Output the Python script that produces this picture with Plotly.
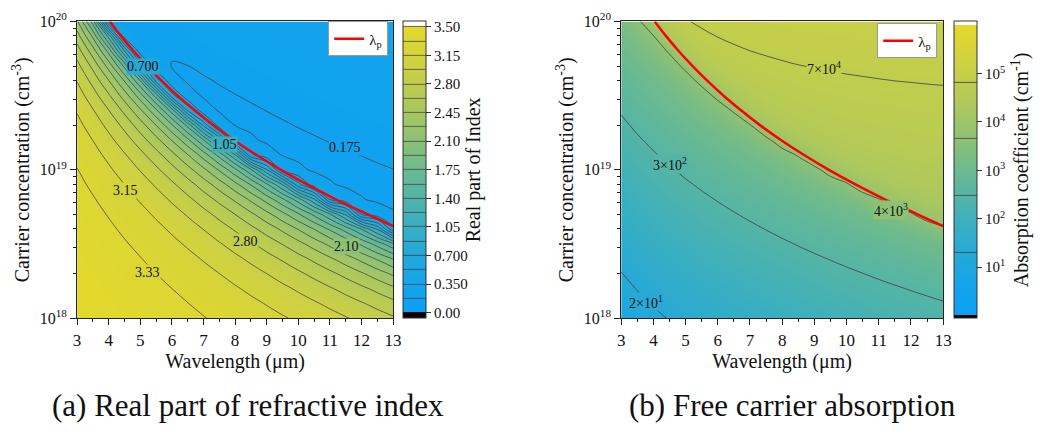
import plotly.graph_objects as go

# ---------------- data ----------------
wavelength = [3.0, 3.5, 4.0, 4.5, 5.0, 5.5, 6.0, 6.5, 7.0, 7.5, 8.0, 8.5, 9.0,
              9.5, 10.0, 10.5, 11.0, 11.5, 12.0, 12.5, 13.0]          # µm
log_conc = [18.0, 18.1, 18.2, 18.3, 18.4, 18.5, 18.6, 18.7, 18.8, 18.9, 19.0,
            19.1, 19.2, 19.3, 19.4, 19.5, 19.6, 19.7, 19.8, 19.9, 20.0]  # log10(cm^-3)

# (a) real part of the refractive index, one row per concentration
n_real = [
    [3.484,3.472,3.458,3.442,3.423,3.403,3.381,3.357,3.331,3.302,3.272,3.239,3.203,3.165,3.125,3.082,3.036,2.987,2.935,2.880,2.822],
    [3.478,3.463,3.446,3.427,3.406,3.382,3.355,3.327,3.295,3.261,3.224,3.184,3.141,3.095,3.046,2.994,2.938,2.878,2.814,2.746,2.673],
    [3.470,3.453,3.433,3.410,3.385,3.356,3.325,3.290,3.252,3.211,3.166,3.118,3.066,3.011,2.951,2.886,2.817,2.743,2.663,2.578,2.485],
    [3.461,3.441,3.417,3.390,3.359,3.325,3.288,3.246,3.200,3.151,3.097,3.039,2.975,2.907,2.833,2.753,2.667,2.574,2.473,2.363,2.242],
    [3.451,3.427,3.398,3.366,3.330,3.289,3.243,3.194,3.139,3.079,3.013,2.942,2.864,2.780,2.688,2.588,2.479,2.360,2.228,2.082,1.918],
    [3.439,3.410,3.376,3.337,3.294,3.245,3.190,3.130,3.063,2.990,2.910,2.822,2.726,2.620,2.504,2.376,2.234,2.075,1.894,1.685,1.436],
    [3.424,3.389,3.349,3.303,3.250,3.192,3.126,3.053,2.972,2.882,2.783,2.674,2.553,2.419,2.268,2.099,1.905,1.678,1.402,1.039,0.398],
    [3.406,3.365,3.317,3.262,3.199,3.128,3.048,2.959,2.859,2.749,2.625,2.487,2.331,2.155,1.951,1.712,1.418,1.023,0.341,0.242,0.187],
    [3.385,3.336,3.278,3.212,3.136,3.049,2.952,2.842,2.719,2.580,2.423,2.243,2.035,1.789,1.487,1.082,0.345,0.239,0.182,0.158,0.150],
    [3.360,3.301,3.232,3.152,3.060,2.955,2.836,2.700,2.545,2.367,2.161,1.918,1.621,1.230,0.584,0.251,0.186,0.159,0.152,0.151,0.157],
    [3.330,3.259,3.176,3.079,2.967,2.837,2.689,2.517,2.318,2.082,1.797,1.432,0.895,0.281,0.196,0.162,0.153,0.152,0.160,0.167,0.174],
    [3.294,3.209,3.109,2.991,2.854,2.694,2.507,2.286,2.021,1.691,1.244,0.389,0.224,0.171,0.156,0.154,0.160,0.169,0.176,0.184,0.190],
    [3.250,3.148,3.026,2.882,2.711,2.510,2.268,1.972,1.591,1.037,0.284,0.190,0.160,0.155,0.160,0.169,0.178,0.186,0.193,0.200,0.207],
    [3.199,3.076,2.928,2.750,2.536,2.277,1.954,1.527,0.854,0.245,0.174,0.158,0.158,0.168,0.178,0.187,0.195,0.203,0.210,0.217,0.223],
    [3.137,2.988,2.806,2.584,2.311,1.966,1.500,0.701,0.222,0.167,0.159,0.165,0.176,0.186,0.195,0.203,0.211,0.219,0.226,0.233,0.239],
    [3.061,2.879,2.652,2.370,2.008,1.510,0.603,0.210,0.166,0.162,0.173,0.184,0.194,0.204,0.213,0.221,0.229,0.236,0.243,0.249,0.255],
    [2.970,2.745,2.460,2.092,1.581,0.653,0.208,0.167,0.167,0.180,0.191,0.202,0.212,0.221,0.230,0.238,0.245,0.252,0.259,0.265,0.271],
    [2.858,2.578,2.212,1.706,0.830,0.216,0.172,0.174,0.188,0.200,0.211,0.222,0.232,0.240,0.249,0.256,0.264,0.270,0.277,0.283,0.288],
    [2.717,2.362,1.871,1.069,0.232,0.179,0.182,0.196,0.210,0.222,0.233,0.243,0.252,0.261,0.269,0.276,0.283,0.290,0.296,0.301,0.307],
    [2.537,2.073,1.350,0.260,0.183,0.185,0.201,0.215,0.228,0.240,0.250,0.260,0.269,0.277,0.285,0.292,0.299,0.305,0.311,0.316,0.321],
    [2.311,1.674,0.325,0.191,0.186,0.203,0.219,0.233,0.245,0.257,0.267,0.276,0.285,0.293,0.300,0.307,0.313,0.319,0.325,0.330,0.334],
]

# (b) log10 of the free carrier absorption coefficient (cm^-1)
log_alpha = [
    [0.965,1.100,1.218,1.322,1.416,1.501,1.580,1.652,1.720,1.783,1.843,1.900,1.955,2.007,2.057,2.105,2.151,2.197,2.241,2.284,2.327],
    [1.073,1.209,1.327,1.431,1.526,1.611,1.690,1.763,1.832,1.896,1.957,2.015,2.070,2.123,2.174,2.224,2.272,2.319,2.366,2.411,2.457],
    [1.181,1.317,1.435,1.541,1.635,1.722,1.801,1.875,1.944,2.010,2.072,2.131,2.187,2.242,2.295,2.346,2.397,2.446,2.496,2.544,2.594],
    [1.289,1.426,1.545,1.650,1.746,1.833,1.913,1.988,2.058,2.125,2.188,2.249,2.307,2.364,2.419,2.473,2.527,2.580,2.633,2.687,2.743],
    [1.398,1.535,1.654,1.760,1.857,1.945,2.026,2.102,2.174,2.242,2.307,2.369,2.430,2.489,2.548,2.606,2.664,2.723,2.783,2.846,2.912],
    [1.507,1.644,1.765,1.872,1.969,2.058,2.141,2.218,2.292,2.362,2.429,2.494,2.558,2.622,2.685,2.749,2.814,2.883,2.956,3.037,3.131],
    [1.616,1.754,1.875,1.983,2.081,2.172,2.256,2.335,2.411,2.484,2.554,2.623,2.692,2.761,2.832,2.906,2.985,3.072,3.177,3.315,3.522],
    [1.725,1.864,1.986,2.095,2.195,2.287,2.374,2.456,2.534,2.610,2.686,2.760,2.836,2.915,2.999,3.093,3.204,3.348,3.594,3.937,4.104],
    [1.836,1.976,2.099,2.210,2.311,2.406,2.495,2.580,2.663,2.744,2.826,2.910,2.999,3.097,3.209,3.360,3.616,3.987,4.157,4.245,4.302],
    [1.946,2.087,2.212,2.325,2.429,2.526,2.619,2.709,2.797,2.887,2.980,3.080,3.195,3.339,3.573,3.983,4.187,4.285,4.345,4.387,4.419],
    [2.057,2.200,2.327,2.442,2.549,2.650,2.748,2.845,2.943,3.046,3.160,3.296,3.494,3.899,4.193,4.313,4.380,4.426,4.459,4.485,4.506],
    [2.169,2.314,2.443,2.561,2.673,2.779,2.884,2.992,3.105,3.233,3.401,3.695,4.148,4.320,4.405,4.458,4.495,4.523,4.545,4.563,4.578],
    [2.282,2.429,2.562,2.684,2.801,2.916,3.032,3.158,3.304,3.509,3.956,4.291,4.415,4.481,4.525,4.557,4.581,4.600,4.616,4.629,4.640],
    [2.396,2.547,2.683,2.812,2.936,3.063,3.200,3.363,3.615,4.156,4.392,4.489,4.546,4.585,4.613,4.635,4.653,4.667,4.678,4.688,4.697],
    [2.511,2.665,2.807,2.944,3.081,3.229,3.407,3.703,4.273,4.466,4.552,4.604,4.639,4.665,4.685,4.701,4.714,4.725,4.734,4.742,4.748],
    [2.629,2.788,2.938,3.086,3.245,3.436,3.769,4.355,4.530,4.608,4.657,4.690,4.714,4.733,4.748,4.760,4.770,4.779,4.786,4.792,4.797],
    [2.748,2.915,3.076,3.244,3.443,3.786,4.407,4.582,4.659,4.706,4.738,4.762,4.780,4.794,4.805,4.814,4.822,4.829,4.834,4.839,4.843],
    [2.871,3.047,3.226,3.431,3.758,4.435,4.624,4.704,4.751,4.783,4.806,4.824,4.837,4.848,4.857,4.864,4.871,4.876,4.880,4.884,4.888],
    [3.000,3.192,3.401,3.704,4.435,4.660,4.745,4.795,4.827,4.850,4.868,4.881,4.891,4.900,4.907,4.913,4.918,4.922,4.926,4.929,4.932],
    [3.135,3.351,3.627,4.362,4.683,4.780,4.834,4.868,4.892,4.909,4.922,4.933,4.941,4.948,4.954,4.958,4.962,4.966,4.969,4.971,4.974],
    [3.281,3.541,4.099,4.688,4.810,4.870,4.907,4.932,4.950,4.963,4.974,4.982,4.989,4.994,4.999,5.003,5.006,5.009,5.011,5.013,5.015],
]

# plasma wavelength curve (red line)
lp_log_conc = [18.62, 18.7, 18.8, 18.9, 19.0, 19.1, 19.2, 19.3, 19.4, 19.5, 19.6, 19.7, 19.8, 19.9, 20.0]
lp_wavelength = [13.0, 12.20, 11.20, 10.29, 9.45, 8.68, 7.97, 7.32, 6.73, 6.18, 5.68, 5.22, 4.79, 4.40, 4.04]

n_ticks = [0.0, 0.35, 0.70, 1.05, 1.40, 1.75, 2.10, 2.45, 2.80, 3.15, 3.50]
n_ticktext = ["0.00", "0.350", "0.700", "1.05", "1.40", "1.75", "2.10", "2.45", "2.80", "3.15", "3.50"]
a_ticks = [1, 2, 3, 4, 5]
a_ticktext = ["10<sup>1</sup>", "10<sup>2</sup>", "10<sup>3</sup>", "10<sup>4</sup>", "10<sup>5</sup>"]

# contour labels: (text, wavelength, log10 conc, background)
labels_a = [("0.700", 5.09, 19.70, "#26a9d6"), ("1.05", 7.66, 19.17, "#3aafc0"),
            ("0.175", 11.47, 19.15, "#10a2f0"), ("3.15", 4.53, 18.86, "#d5d33c"),
            ("2.80", 8.34, 18.52, "#c0cd4e"), ("2.10", 11.53, 18.48, "#8cc176"),
            ("3.33", 5.22, 18.31, "#dcd635")]
labels_b = [("2×10<sup>1</sup>", 3.77, 18.11, "#27a9d6"), ("3×10<sup>2</sup>", 4.53, 19.04, "#54b5a6"),
            ("4×10<sup>3</sup>", 11.37, 18.73, "#8ec175"), ("7×10<sup>4</sup>", 9.29, 19.69, "#c1cd4d")]

# ---------------- styling ----------------
conc = [10.0 ** v for v in log_conc]
lp_conc = [10.0 ** v for v in lp_log_conc]
FONT = "Liberation Serif, Times New Roman, Times, serif"
ramp = ["#0ba0f5", "#15a4ea", "#24a8da", "#38aec3", "#52b4a8", "#6dba8f",
        "#8cc176", "#a8c762", "#c0cd4e", "#d5d33c", "#e4d92c"]


def make_scale(lo, hi):
    lo = round(lo, 5)
    hi = round(hi, 5)
    cs = [[0.0, "#000000"], [lo, "#000000"]]
    k = len(ramp) - 1
    for i, c in enumerate(ramp):
        pos = hi if i == k else round(lo + (hi - lo) * i / k, 5)
        cs.append([pos, c])
    cs += [[hi, "#ffffff"], [1.0, "#ffffff"]]
    return cs


XD1 = [74 / 1042, 394 / 1042]
XD2 = [625 / 1042, 951 / 1042]
YD = [1 - 322 / 436, 1 - 11 / 436]
CB_LEN = (322 - 11) / 436
CB_Y = 1 - (11 + 322) / 2 / 436

fig = go.Figure()

n_zmin, n_zmax = -0.07, 3.565
fig.add_trace(go.Contour(
    x=wavelength, y=conc, z=n_real, xaxis="x", yaxis="y",
    zmin=n_zmin, zmax=n_zmax, zauto=False,
    colorscale=make_scale((0 - n_zmin) / (n_zmax - n_zmin), (3.5 - n_zmin) / (n_zmax - n_zmin)),
    contours=dict(start=0.175, end=3.5, size=0.175, coloring="heatmap", showlines=True),
    line=dict(color="#404040", width=0.75, smoothing=1),
    colorbar=dict(x=404 / 1042, xanchor="left", xpad=0, ypad=0, y=CB_Y, yanchor="middle",
                  len=CB_LEN, lenmode="fraction", thickness=23,
                  outlinecolor="#333333", outlinewidth=1,
                  tickvals=n_ticks, ticktext=n_ticktext, ticks="outside", ticklen=5,
                  tickcolor="#333333", tickfont=dict(family=FONT, size=15, color="#111"),
                  title=dict(text="Real part of Index", side="right",
                             font=dict(family=FONT, size=20, color="#111"))),
    showlegend=False, hoverinfo="skip"))

a_zmin, a_zmax = -0.06, 6.08
fig.add_trace(go.Contour(
    x=wavelength, y=conc, z=log_alpha, xaxis="x2", yaxis="y2",
    zmin=a_zmin, zmax=a_zmax, zauto=False,
    colorscale=make_scale((0 - a_zmin) / (a_zmax - a_zmin), (6 - a_zmin) / (a_zmax - a_zmin)),
    contours=dict(start=1.301, end=4.83, size=1.176, coloring="heatmap", showlines=True),
    line=dict(color="#404040", width=0.8, smoothing=1),
    colorbar=dict(x=962 / 1042, xanchor="left", xpad=0, ypad=0, y=CB_Y, yanchor="middle",
                  len=CB_LEN, lenmode="fraction", thickness=23,
                  outlinecolor="#333333", outlinewidth=1,
                  tickvals=a_ticks, ticktext=a_ticktext, ticks="outside", ticklen=5,
                  tickcolor="#333333", tickfont=dict(family=FONT, size=15, color="#111"),
                  title=dict(text="Absorption coefficient (cm<sup>-1</sup>)", side="right",
                             font=dict(family=FONT, size=20, color="#111"))),
    showlegend=False, hoverinfo="skip"))

fig.add_trace(go.Scatter(x=lp_wavelength, y=lp_conc, mode="lines", name="λ<sub>p</sub>",
                         line=dict(color="#ff0000", width=2.5, shape="spline"),
                         xaxis="x", yaxis="y", legend="legend", showlegend=True))
fig.add_trace(go.Scatter(x=lp_wavelength, y=lp_conc, mode="lines", name="λ<sub>p</sub>",
                         line=dict(color="#ff0000", width=2.5, shape="spline"),
                         xaxis="x2", yaxis="y2", legend="legend2", showlegend=True))

annotations = []
for text, wl, lc, bg in labels_a:
    annotations.append(dict(x=wl, y=lc, xref="x", yref="y", text=text, showarrow=False,
                            xanchor="center", yanchor="middle",
                            bgcolor=bg, borderpad=0, font=dict(family=FONT, size=14, color="#111")))
for text, wl, lc, bg in labels_b:
    annotations.append(dict(x=wl, y=lc, xref="x2", yref="y2", text=text, showarrow=False,
                            xanchor="center", yanchor="middle",
                            bgcolor=bg, borderpad=0, font=dict(family=FONT, size=14, color="#111")))
annotations.append(dict(x=247 / 1042, y=1 - 413 / 436, xref="paper", yref="paper", showarrow=False,
                        xanchor="center", yanchor="middle",
                        text="(a) Real part of refractive index",
                        font=dict(family=FONT, size=31, color="#111")))
annotations.append(dict(x=798 / 1042, y=1 - 413 / 436, xref="paper", yref="paper", showarrow=False,
                        xanchor="center", yanchor="middle",
                        text="(b) Free carrier absorption",
                        font=dict(family=FONT, size=31, color="#111")))

minor_y = [float(m) * 10.0 ** e for e in (18, 19) for m in range(2, 10)]


def xaxis_style(domain, anchor):
    return dict(domain=domain, anchor=anchor, range=[3, 13], tickvals=list(range(3, 14)),
                ticks="outside", ticklen=6, tickcolor="#222", showline=True, linecolor="#222",
                linewidth=1, mirror=True, showgrid=False, zeroline=False,
                minor=dict(dtick=0.5, ticks="outside", ticklen=3, tickcolor="#222"),
                tickfont=dict(family=FONT, size=17, color="#111"),
                title=dict(text="Wavelength (μm)", standoff=2,
                           font=dict(family=FONT, size=20, color="#111")))


def yaxis_style(anchor):
    return dict(domain=YD, anchor=anchor, type="log", range=[17.9995, 20.0005],
                tickvals=[1e18, 1e19, 1e20],
                ticktext=["10<sup>18</sup>", "10<sup>19</sup>", "10<sup>20</sup>"],
                ticklabeloverflow="allow",
                ticks="outside", ticklen=6, tickcolor="#222", showline=True, linecolor="#222",
                linewidth=1, mirror=True, showgrid=False, zeroline=False,
                minor=dict(tickvals=minor_y, ticks="outside", ticklen=3, tickcolor="#222"),
                tickfont=dict(family=FONT, size=16, color="#111"),
                title=dict(text="Carrier concentration (cm<sup>-3</sup>)", standoff=4,
                           font=dict(family=FONT, size=20, color="#111")))


legend_style = dict(bgcolor="white", bordercolor="#999999", borderwidth=1,
                    font=dict(family=FONT, size=15, color="#111"), itemwidth=30,
                    xanchor="right", yanchor="top", tracegroupgap=0)

fig.update_layout(
    width=1042, height=436, margin=dict(l=0, r=0, t=0, b=0),
    paper_bgcolor="white", plot_bgcolor="white", showlegend=True,
    xaxis=xaxis_style(XD1, "y"), yaxis=yaxis_style("x"),
    xaxis2=xaxis_style(XD2, "y2"), yaxis2=yaxis_style("x2"),
    legend=dict(x=389 / 1042, y=1 - 11 / 436, **legend_style),
    legend2=dict(x=945 / 1042, y=1 - 13 / 436, **legend_style),
    annotations=annotations,
)

fig.write_html("out.html")
